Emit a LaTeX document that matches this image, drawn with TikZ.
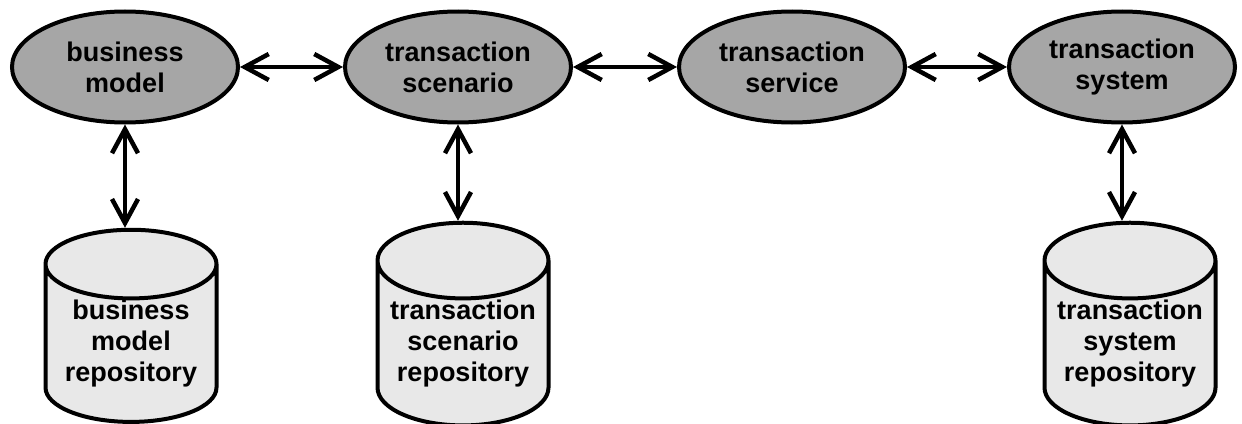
\documentclass[tikz,border=0pt]{standalone}
\usepackage{fontspec}
\setmainfont{Liberation Sans}
\usetikzlibrary{shapes.geometric,arrows.meta,positioning}
\tikzset{
  act/.style={ellipse, draw, line width=4pt, fill=black!35, minimum width=226pt, minimum height=111pt, inner sep=0pt, align=center, font=\bfseries\fontsize{27}{31}\selectfont},
  repo/.style={cylinder, shape border rotate=90, aspect=0.52, draw, line width=4pt, fill=black!9, minimum width=171pt, minimum height=136pt, inner sep=0pt, align=center, font=\bfseries\fontsize{27}{31}\selectfont},
  link/.style={line width=4.5pt, {Straight Barb[length=24pt,width=26pt]}-{Straight Barb[length=24pt,width=26pt]}}
}
\begin{document}
\begin{tikzpicture}[x=1pt,y=-1pt]
\useasboundingbox (0,0) rectangle (1242,423);
\node[act] (bm) at (125,67){business\\model};
\node[act] (ts) at (458,67){transaction\\scenario};
\node[act] (tsv) at (792,67){transaction\\service};
\node[act] (tsy) at (1122,67){transaction\\system};
\node[repo] (rbm) at (131,344){business\\model\\repository};
\node[repo] (rts) at (463,344){transaction\\scenario\\repository};
\node[repo] (rtsy) at (1130,344){transaction\\system\\repository};
\draw[link] (bm) -- (ts);
\draw[link] (ts) -- (tsv);
\draw[link] (tsv) -- (tsy);
\draw[link] (bm.south) -- (bm.south |- rbm.north);
\draw[link] (ts.south) -- (ts.south |- rts.north);
\draw[link] (tsy.south) -- (tsy.south |- rtsy.north);
\end{tikzpicture}
\end{document}
